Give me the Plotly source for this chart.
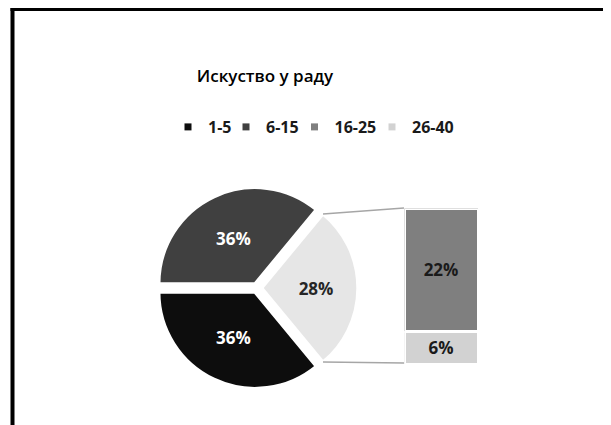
import math
import plotly.graph_objects as go

# ---- data ----
title_text = "Искуство у раду"
pie_labels = ["1-5", "6-15", "Остало"]
pie_values = [36, 36, 28]
bar_labels = ["26-40", "16-25"]      # stacked bottom -> top
bar_values = [6, 22]
legend_labels = ["1-5", "6-15", "16-25", "26-40"]

# ---- style ----
C_15 = "#0D0D0D"
C_615 = "#404040"
C_1625 = "#7F7F7F"
C_2640 = "#D2D2D2"
C_OTHER = "#E6E6E6"
legend_colors = [C_15, C_615, C_1625, C_2640]
legend_entry_widths = [13, 23.5, 32.5, 45]
FONT = "Open Sans"
W, H = 611, 425
OFF = 8  # page body margin

def px(x):
    return (x - OFF) / W

def py(y):
    return 1 - (y - OFF) / H

# pie geometry (screen pixels)
CX, CY, R, PULL = 257, 288, 96, 0.05
half = R * (1 + PULL)
pie_dom_x = [px(CX - half), px(CX + half)]
pie_dom_y = [py(CY + half), py(CY - half)]

# bar geometry (screen pixels)
BL, BR, BT, BB, LW = 406, 477, 210, 363, 3
bar_dom_x = [px(BL - LW / 2), px(BR + LW / 2)]
bar_dom_y = [py(BB + LW / 2), py(BT - LW / 2)]

fig = go.Figure()

total = sum(pie_values)
rot = 90 + 180 * pie_values[-1] / total  # first slice starts at lower edge of "other"
fig.add_trace(go.Pie(
    labels=pie_labels, values=pie_values, sort=False, direction="clockwise",
    rotation=rot, pull=[PULL] * 3,
    marker=dict(colors=[C_15, C_615, C_OTHER], line=dict(color="white", width=3)),
    texttemplate="%{value}%", textposition="inside", insidetextorientation="horizontal",
    insidetextfont=dict(family=FONT, size=17, weight="bold",
                        color=["white", "white", "#262626"]),
    domain=dict(x=pie_dom_x, y=pie_dom_y), showlegend=False, hoverinfo="label+value",
))

for lab, val, col in zip(bar_labels, bar_values, [C_2640, C_1625]):
    fig.add_trace(go.Bar(
        x=["Остало"], y=[val], name=lab, marker=dict(color=col, line=dict(color="white", width=LW)),
        texttemplate="%{y}%", textposition="inside", insidetextanchor="middle",
        textfont=dict(family=FONT, size=17, weight="bold", color="#1A1A1A"),
        showlegend=False, xaxis="x", yaxis="y",
    ))

for i, (lab, col, lw) in enumerate(zip(legend_labels, legend_colors, legend_entry_widths)):
    fig.add_trace(go.Scatter(
        x=[None], y=[None], mode="markers", name=lab, legendrank=i + 1, legendwidth=lw,
        marker=dict(symbol="square", size=7, color=col), xaxis="x", yaxis="y",
    ))

# connector lines from the "other" slice to the bar
ang = math.pi * pie_values[-1] / total
apx = CX + PULL * R
top_pt = (apx + R * math.cos(ang), CY - R * math.sin(ang))
bot_pt = (apx + R * math.cos(ang), CY + R * math.sin(ang))
shapes = []
for (sx, sy), ty in [(top_pt, BT - 2), (bot_pt, BB)]:
    shapes.append(dict(type="line", xref="paper", yref="paper",
                       x0=px(sx), y0=py(sy), x1=px(BL - 2), y1=py(ty),
                       line=dict(color="#A6A6A6", width=1.5)))
# chart frame
shapes.append(dict(type="line", xref="paper", yref="paper", x0=px(10.5), y0=py(9),
                   x1=px(W + 20), y1=py(9), line=dict(color="black", width=4)))
shapes.append(dict(type="line", xref="paper", yref="paper", x0=px(12.5), y0=py(7),
                   x1=px(12.5), y1=py(H + 20), line=dict(color="black", width=4)))

fig.update_layout(
    width=W, height=H, margin=dict(l=0, r=0, t=0, b=0),
    paper_bgcolor="white", plot_bgcolor="white",
    title=dict(text=title_text, x=px(265), y=py(76), xanchor="center", yanchor="middle",
               font=dict(family=FONT, size=17, weight=600, color="black")),
    barmode="stack", bargap=0,
    xaxis=dict(domain=bar_dom_x, visible=False, fixedrange=True),
    yaxis=dict(domain=bar_dom_y, range=[0, sum(bar_values)], visible=False, fixedrange=True),
    legend=dict(orientation="h", x=px(168), xanchor="left", y=py(127), yanchor="middle",
                traceorder="normal",
                font=dict(family=FONT, size=16, weight="bold", color="#1A1A1A"),
                bgcolor="rgba(0,0,0,0)", itemclick=False, itemdoubleclick=False),
    shapes=shapes,
    showlegend=True,
)

fig.write_html("out.html")
